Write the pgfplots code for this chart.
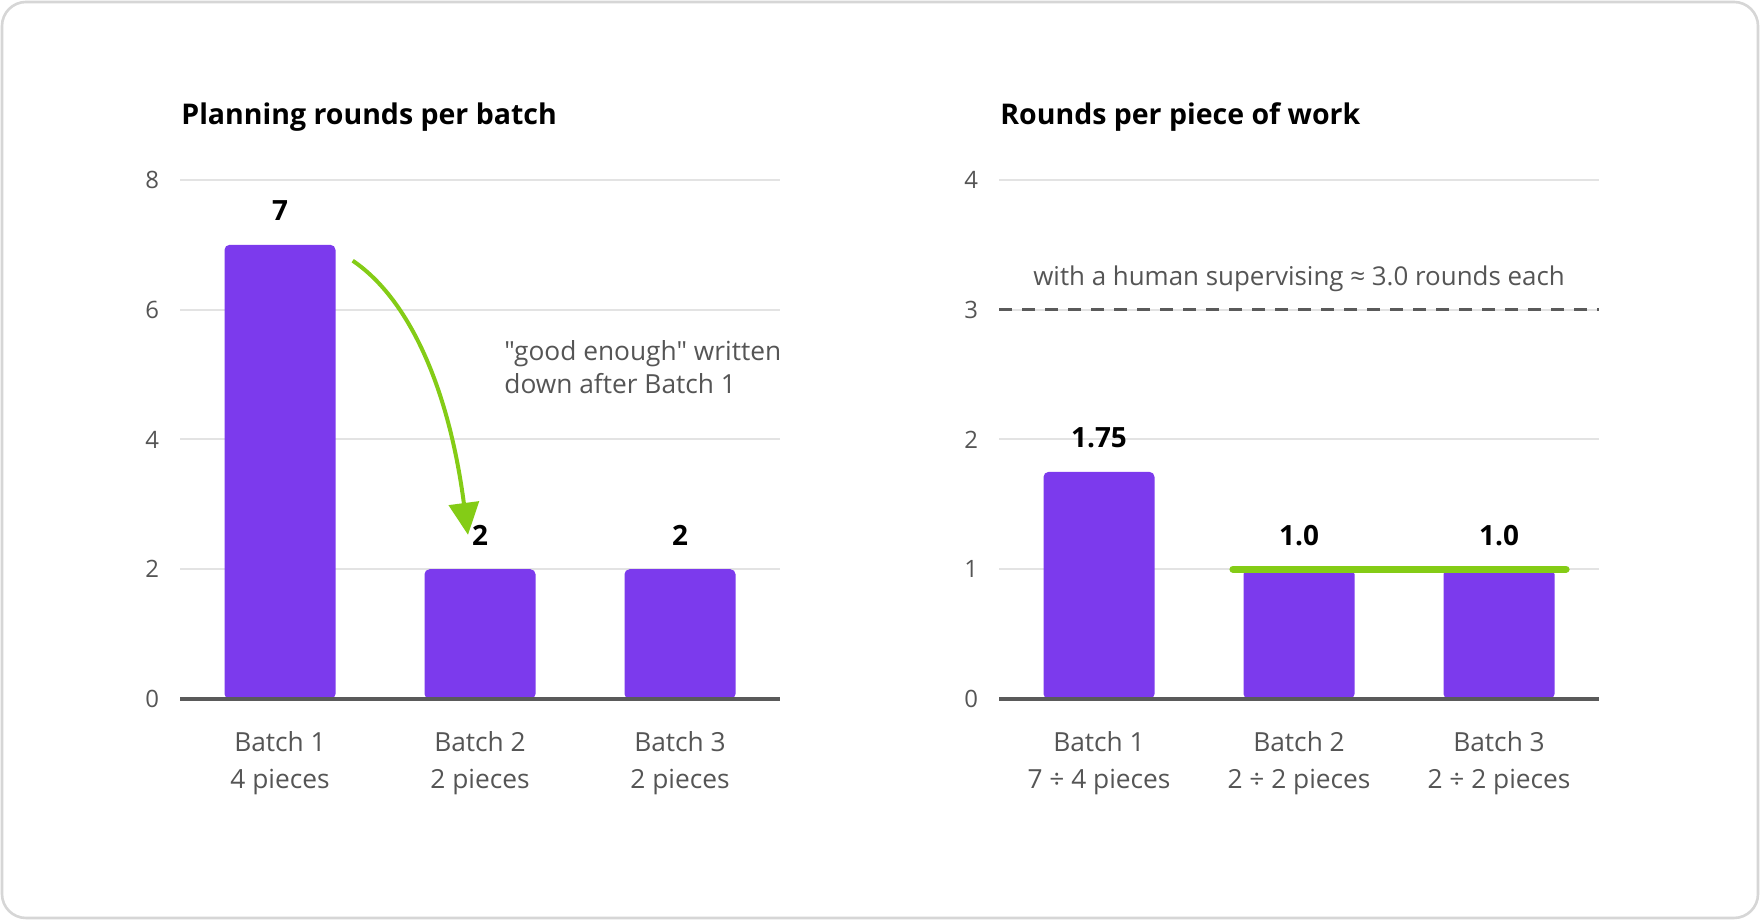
\documentclass[border=0pt]{standalone}
\usepackage{pgfplots}
\pgfplotsset{compat=1.18}
\usepackage{fontspec}
\setmainfont{Open Sans}[Ligatures=TeXOff]
\usetikzlibrary{arrows.meta}
\definecolor{barpurple}{HTML}{7C3AED}
\definecolor{limegreen}{HTML}{84CC16}
\definecolor{txtgray}{HTML}{555555}
\definecolor{gridgray}{HTML}{E3E3E3}
\definecolor{axisgray}{HTML}{5A5A5A}
\definecolor{bordergray}{HTML}{D6D6D6}

\pgfplotsset{
  panel/.style={
    scale only axis, width=300bp, height=259.5bp,
    anchor=south west,
    xmin=-0.5, xmax=2.5, ymin=0,
    axis line style={draw=none},
    major tick length=0pt,
    ymajorgrids, grid style={gridgray, line width=1bp},
    xtick={0,1,2},
    tick label style={text=txtgray},
    yticklabel style={font=\fontsize{12}{14}\selectfont, xshift=-7bp},
    /pgf/number format/assume math mode=true,
    xticklabel style={align=center, font=\fontsize{13.2}{19}\selectfont, yshift=-12.5bp},
    ybar, bar width=0.555,
    point meta=explicit symbolic,
    nodes near coords,
    every node near coord/.append style={font=\bfseries\fontsize{14}{16}\selectfont, text=black, anchor=base, yshift=12bp},
    clip=false,
  }
}

\begin{document}
\begin{tikzpicture}[x=1bp,y=1bp]
\useasboundingbox (0,0) rectangle (880,460);
\fill[white] (0,0) rectangle (880,460);
\draw[bordergray, line width=1.3bp, rounded corners=12bp] (1,1) rectangle (879,459);

\node[anchor=west, inner sep=0pt, font=\bfseries\fontsize{14.3}{16}\selectfont] at (90.5,401.3) {Planning rounds per batch};
\node[anchor=west, inner sep=0pt, font=\bfseries\fontsize{14.3}{16}\selectfont] at (500,401.3) {Rounds per piece of work};

\begin{axis}[panel, at={(90bp,110.5bp)}, ymax=8, ytick={0,2,4,6,8},
  xticklabels={{Batch 1\\4 pieces},{Batch 2\\2 pieces},{Batch 3\\2 pieces}}]
\addplot[fill=barpurple, draw=none, rounded corners=2.5bp] coordinates {(0,7) [7] (1,2) [2] (2,2) [2]};
\draw[axisgray, line width=1.6bp] (axis cs:-0.5,0) -- (axis cs:2.5,0);
\draw[limegreen, line width=2bp, -{Triangle[length=16bp,width=15bp]}]
  (axis cs:0.3635,6.756) .. controls (axis cs:0.6545,6.147) and (axis cs:0.8465,4.737) .. (axis cs:0.94,2.53);
\node[anchor=west, inner sep=0pt, align=left, font=\fontsize{13.2}{16.5}\selectfont, text=txtgray]
  at (axis cs:1.12,5.12) {"good enough" written\\down after Batch 1};
\end{axis}

\begin{axis}[panel, at={(499.5bp,110.5bp)}, ymax=4, ytick={0,1,2,3,4},
  xticklabels={{Batch 1\\7 ÷ 4 pieces},{Batch 2\\2 ÷ 2 pieces},{Batch 3\\2 ÷ 2 pieces}}]
\addplot[fill=barpurple, draw=none, rounded corners=2.5bp] coordinates {(0,1.75) [1.75] (1,1) [1.0] (2,1) [1.0]};
\draw[axisgray, line width=1.6bp] (axis cs:-0.5,0) -- (axis cs:2.5,0);
\draw[limegreen, line width=3.6bp, line cap=round] (axis cs:0.67,1) -- (axis cs:2.335,1);
\draw[axisgray, line width=1.6bp, dash pattern=on 6.5bp off 5bp] (axis cs:-0.5,3) -- (axis cs:2.5,3);
\node[font=\fontsize{13}{16}\selectfont, text=txtgray] at (axis cs:1,3.235) {with a human supervising ≈ 3.0 rounds each};
\end{axis}
\end{tikzpicture}
\end{document}
